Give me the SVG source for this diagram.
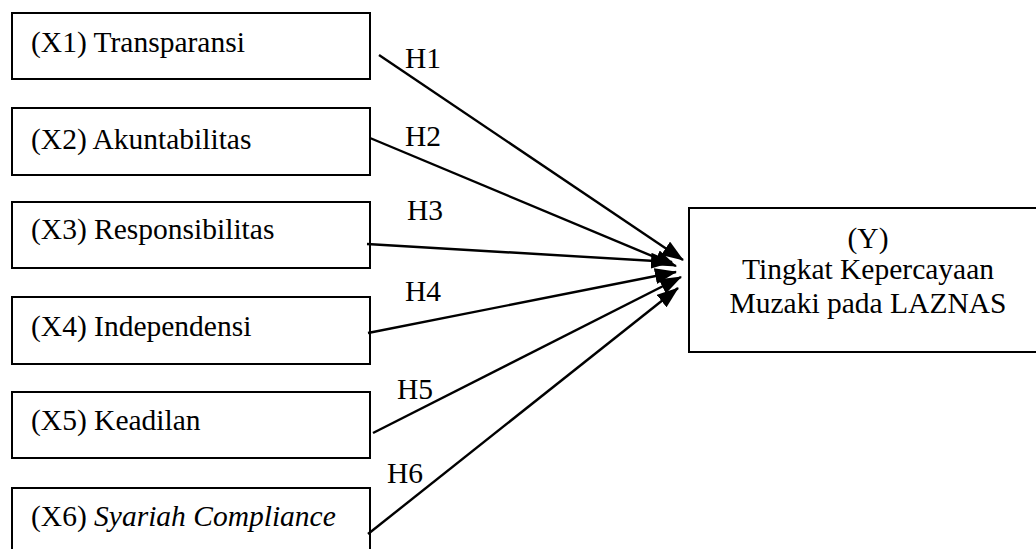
<svg xmlns="http://www.w3.org/2000/svg" width="1036" height="549" viewBox="0 0 1036 549">
<style>
.box{fill:#fff;stroke:#000;stroke-width:2}
.t{font-family:"Liberation Serif","Times New Roman",serif;font-size:29.5px;fill:#000}
.c{stroke:#000;stroke-width:2.4;fill:none;marker-end:url(#ah)}
</style>
<defs>
<marker id="ah" markerUnits="userSpaceOnUse" markerWidth="22" markerHeight="16" refX="21" refY="8" orient="auto">
<path d="M0,0 L22,8 L0,16 z" fill="#000"/>
</marker>
</defs>
<rect width="1036" height="549" fill="#fff"/>
<g id="x1"><rect class="box" x="12" y="13" width="358" height="66"/><text class="t" x="31" y="52">(X1) Transparansi</text></g>
<g id="x2"><rect class="box" x="12" y="108" width="358" height="67"/><text class="t" x="31" y="149">(X2) Akuntabilitas</text></g>
<g id="x3"><rect class="box" x="12" y="202" width="358" height="66"/><text class="t" x="31" y="239">(X3) Responsibilitas</text></g>
<g id="x4"><rect class="box" x="12" y="297" width="358" height="67"/><text class="t" x="31" y="336">(X4) Independensi</text></g>
<g id="x5"><rect class="box" x="12" y="392" width="358" height="66"/><text class="t" x="31" y="430">(X5) Keadilan</text></g>
<g id="x6"><rect class="box" x="12" y="488" width="358" height="70"/><text class="t" x="31" y="526">(X6) <tspan font-style="italic">Syariah Compliance</tspan></text></g>
<g id="y"><rect class="box" x="689" y="208" width="360" height="144"/>
<text class="t" x="868" y="248" text-anchor="middle">(Y)</text>
<text class="t" x="868" y="279" text-anchor="middle">Tingkat Kepercayaan</text>
<text class="t" x="868" y="313" text-anchor="middle">Muzaki pada LAZNAS</text></g>
<g id="connectors">
<line class="c" x1="379" y1="55" x2="683" y2="260"/>
<line class="c" x1="370" y1="138" x2="676" y2="266"/>
<line class="c" x1="367" y1="244" x2="672" y2="262"/>
<line class="c" x1="368" y1="333" x2="676" y2="272"/>
<line class="c" x1="373" y1="433" x2="681" y2="277"/>
<line class="c" x1="368" y1="534" x2="678" y2="288"/>
</g>
<g id="labels">
<text class="t" x="405" y="68">H1</text>
<text class="t" x="405" y="146">H2</text>
<text class="t" x="407" y="220">H3</text>
<text class="t" x="405" y="301">H4</text>
<text class="t" x="397" y="399">H5</text>
<text class="t" x="387" y="483">H6</text>
</g>
</svg>
